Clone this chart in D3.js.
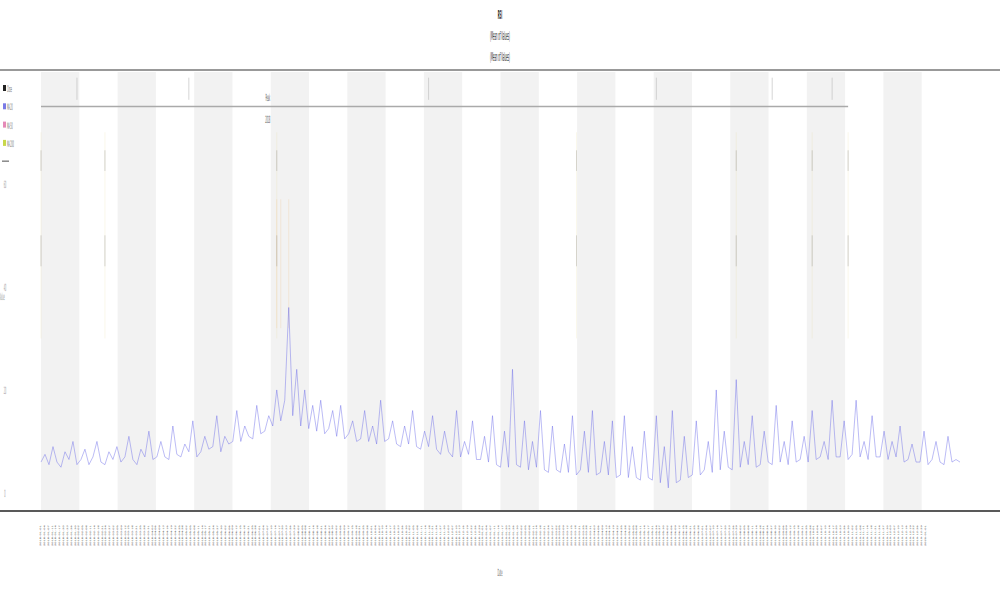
<!DOCTYPE html>
<html><head><meta charset="utf-8">
<script src="https://cdn.jsdelivr.net/npm/d3@7"></script>
<style>body{margin:0;background:#fff}svg{display:block}text{font-family:"DejaVu Sans",sans-serif}</style>
</head><body><svg id="c" width="1000" height="600"></svg>
<script>
// ---- data ----
const titleLines = ["RSI", "(Mean of Values)", "(Mean of Values)"];
const seriesNames = ["Close", "MA 20", "MA 50", "MA 200", "Target"];
const seriesColors = ["#222222", "#7a7ae6", "#e58ab8", "#c8d84a", "#888888"];
const yTicks = [0, 20, 40, 60];
const yTitle = "Value";
const xTitle = "Date";
const startDate = "2018-01-01";
const bandCount = 24;
const blueValues = [
 6,7.5,5.5,9,6,5,8,6.5,10,5.5,
 6.5,8.5,5.5,7,10,6,5.5,8,6.5,9,
 6,7,11,6.5,5.5,8.5,7,12,6.5,7,
 10,7,6.5,13,7.5,7,9.5,8,14,7,
 8,11,8.5,9,15,8,11,9.5,10,16,
 10,13,11,10.5,17,11.5,12,15,13,20,
 14,18,36,15,24,13,20,12.5,17,12,
 18,11.5,12.5,16,11,17,10.5,11.5,14,10,
 10.5,16,10,13,9.5,18,10,10.5,14,9.5,
 9,13,9.5,16,9,8.5,12,9,15,8.5,
 7.5,12,8,7,16,7,10,7.5,14,6.5,
 6.5,11,6,15,5.5,5,12,5,24,5.5,
 5,14,4.5,10,5,16,4.5,4,13,4.5,
 4,9.5,4,15,3.5,4.5,12,4,16,3.5,
 4,10,3.5,14,3,3.5,15,3,9,3,
 2.5,12,3,2.5,15,2,9,1,16,2,
 2.5,11,3,3.5,14,3.5,4.5,10,4,20,
 4.5,12,5,4.5,22,5,10,5.5,15,5,
 5.5,12,6,5.5,17,6,10,5.5,14,6,
 6.5,11,6,16,6.5,7,10,6.5,18,7,
 7,14,6.5,7.5,18,7,10,6.5,15,7,
 7,12,6.5,10,7,13,6,6.5,9.5,6,
 6,12,5.5,6.5,10,6,5.5,11,6,6.5,6
];
const targetValue = 75;
const targetEndIdx = 202;
const markerIdx = [9, 37, 97, 154, 183, 198];
const markerRange = [76.3, 80.6];
const eventIdx = [0, 16, 59, 134, 174, 193, 202];
const eventUpper = [62.5, 66.5];
const eventLower = [44, 50];
const eventFaint = [30, 70];
const orangeIdx = [59, 60, 62];
const orangeRange = [32, 57];
const noteIdx = 57;
const noteLabels = ["Peak", "2018"];

// ---- chart ----
const svg = d3.select("#c");
const W = 1000, H = 600;
const N = blueValues.length;
const x = d3.scaleLinear().domain([0, N - 1]).range([41, 960]);
const y = d3.scaleLinear().domain([-3.3, 81.7]).range([510, 72]);
const SQ = 0.2;
const parse = d3.timeParse("%Y-%m-%d"), fmt = d3.timeFormat("%Y-%m-%d");
const d0 = parse(startDate);
const categories = d3.range(N).map(i => fmt(d3.timeDay.offset(d0, Math.round(i * 730 / (N - 1)))));

function sq(g, px, py, txt, size, anchor, color, weight) {
  g.append("text").attr("transform", `translate(${px},${py}) scale(${SQ},1)`)
    .attr("text-anchor", anchor || "middle").attr("font-size", size)
    .attr("font-weight", weight || "normal").attr("fill", color || "#333").text(txt);
}

// bands
const bw = (N - 1) / bandCount;
svg.append("g").selectAll("rect").data(d3.range(bandCount).filter(i => i % 2 === 0)).join("rect")
  .attr("x", i => x(i * bw)).attr("width", i => x((i + 1) * bw) - x(i * bw))
  .attr("y", y(81.7)).attr("height", y(-3.3) - y(81.7)).attr("fill", "#f2f2f2");

// title
titleLines.forEach((t, i) => sq(svg, 500, 19 + i * 21, t, 12, "middle", "#222", i === 0 ? "bold" : "normal"));

// top border & bottom axis
svg.append("line").attr("x1", 0).attr("x2", W).attr("y1", 70).attr("y2", 70).attr("stroke", "#999").attr("stroke-width", 2);
svg.append("line").attr("x1", 0).attr("x2", W).attr("y1", 511).attr("y2", 511).attr("stroke", "#222").attr("stroke-width", 1.4);

// target line
svg.append("line").attr("x1", x(0)).attr("x2", x(targetEndIdx)).attr("y1", y(targetValue)).attr("y2", y(targetValue))
  .attr("stroke", "#aaa").attr("stroke-width", 1.5);
svg.append("g").selectAll("line").data(markerIdx).join("line")
  .attr("x1", d => x(d)).attr("x2", d => x(d)).attr("y1", y(markerRange[0])).attr("y2", y(markerRange[1]))
  .attr("stroke", "#bbb").attr("stroke-width", 0.6);

// events
const ev = svg.append("g");
ev.selectAll(".f").data(eventIdx).join("line").attr("class", "f")
  .attr("x1", d => x(d)).attr("x2", d => x(d)).attr("y1", y(eventFaint[0])).attr("y2", y(eventFaint[1]))
  .attr("stroke", "#e5d890").attr("stroke-width", 0.6).attr("opacity", 0.3);
[eventUpper, eventLower].forEach(r => {
  ev.append("g").selectAll("line").data(eventIdx).join("line")
    .attr("x1", d => x(d)).attr("x2", d => x(d)).attr("y1", y(r[0])).attr("y2", y(r[1]))
    .attr("stroke", "#777").attr("stroke-width", 0.6).attr("opacity", 0.5);
});
ev.append("g").selectAll("line").data(orangeIdx).join("line")
  .attr("x1", d => x(d)).attr("x2", d => x(d)).attr("y1", y(orangeRange[0])).attr("y2", y(orangeRange[1]))
  .attr("stroke", "#f0b060").attr("stroke-width", 0.6).attr("opacity", 0.3);

// notes
sq(svg, x(noteIdx) - 1, y(targetValue) - 6, noteLabels[0], 10, "middle", "#555");
sq(svg, x(noteIdx) - 1, y(targetValue) + 16, noteLabels[1], 10, "middle", "#555");

// blue series
svg.append("path").datum(blueValues)
  .attr("d", d3.line().x((d, i) => x(i)).y(d => y(d)))
  .attr("fill", "none").attr("stroke", "#6b6be8").attr("stroke-width", 0.9).attr("opacity", 0.5);

// y ticks & title
yTicks.forEach(t => sq(svg, 5, y(t) + 4, String(t), 10, "middle", "#999"));
sq(svg, 2, 300, yTitle, 10, "middle", "#999");

// x tick labels
svg.append("g").selectAll("text").data(categories).join("text")
  .attr("transform", (d, i) => `translate(${x(i) * 0.963 + 1.5},${546}) scale(0.5,1) rotate(-90)`)
  .attr("font-size", 3.6).attr("fill", "#333").text(d => d);
sq(svg, 500, 576, xTitle, 10, "middle", "#666");

// legend
seriesNames.forEach((n, i) => {
  const ly = 85 + i * 18.3;
  if (i < 4) svg.append("rect").attr("x", 3).attr("y", ly).attr("width", 3).attr("height", 6).attr("fill", seriesColors[i]);
  else svg.append("line").attr("x1", 2).attr("x2", 9).attr("y1", ly + 3).attr("y2", ly + 3).attr("stroke", seriesColors[i]).attr("stroke-width", 1.5);
  if (i < 4) sq(svg, 7, ly + 7, n, 9, "start", "#666");
});
</script></body></html>
